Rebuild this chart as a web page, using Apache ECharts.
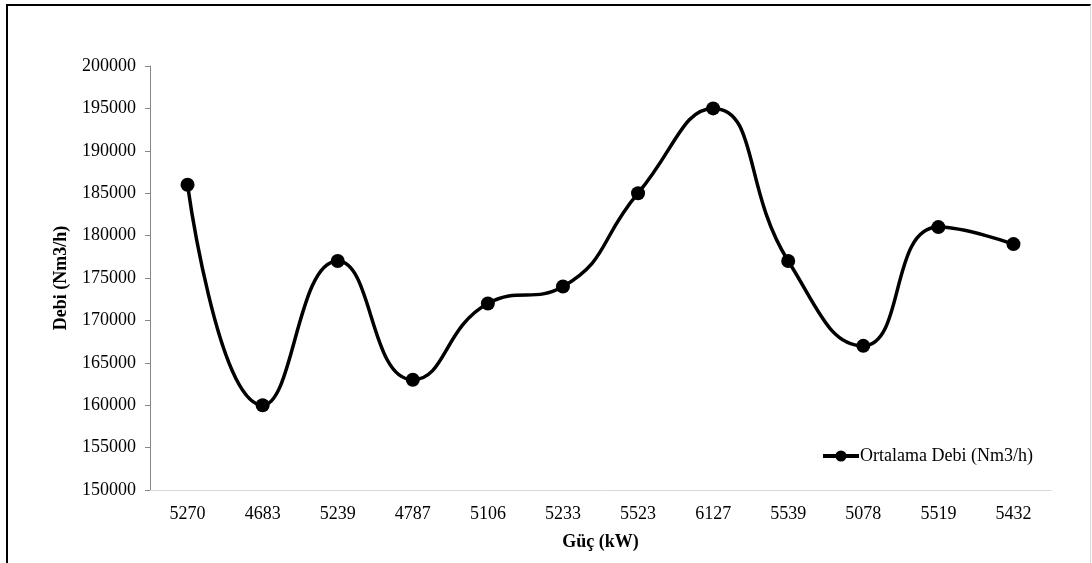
<!DOCTYPE html>
<html>
<head>
<meta charset="utf-8">
<script src="https://cdn.jsdelivr.net/npm/echarts@6/dist/echarts.min.js"></script>
<style>
html,body{margin:0;padding:0;background:#fff;}
#frame{position:absolute;left:6px;top:4px;width:1085px;height:600px;border-left:2px solid #000;border-top:2px solid #000;border-right:1px solid #d9d9d9;box-sizing:border-box;}
#main{position:absolute;left:0;top:0;width:1092px;height:563px;}
</style>
</head>
<body>
<div id="frame"></div>
<div id="main"></div>
<script>
var categories = ['5270','4683','5239','4787','5106','5233','5523','6127','5539','5078','5519','5432'];
var debi = [186000,160000,177000,163000,172000,174000,185000,195000,177000,167000,181000,179000];
var seriesName = 'Ortalama Debi (Nm3/h)';
var yMin = 150000, yMax = 200000, yStep = 5000;

var chart = echarts.init(document.getElementById('main'), null, {renderer:'canvas'});
var font = 'Liberation Serif';
chart.setOption({
  backgroundColor: 'transparent',
  animation: false,
  grid: {left:150, right:41, top:66, bottom:73, containLabel:false},
  legend: {
    data:[seriesName], left:816, top:442, itemWidth:36, itemHeight:14, itemGap:0,
    lineStyle:{width:4, color:'#000'},
    textStyle:{fontFamily:font, fontSize:18, color:'#000', padding:[0,0,0,-4]}
  },
  xAxis: {
    type:'category', data:categories, boundaryGap:true,
    name:'Güç (kW)', nameLocation:'middle', nameGap:43,
    nameTextStyle:{fontFamily:font, fontSize:18, fontWeight:'bold', color:'#000'},
    axisLine:{lineStyle:{color:'#d9d9d9', width:1}},
    axisTick:{show:false},
    axisLabel:{fontFamily:font, fontSize:18, color:'#000', margin:15}
  },
  yAxis: {
    type:'value', min:yMin, max:yMax, interval:yStep,
    name:'Debi (Nm3/h)', nameLocation:'middle', nameGap:80, nameRotate:90,
    nameTextStyle:{fontFamily:font, fontSize:18, fontWeight:'bold', color:'#000'},
    axisLine:{show:true, lineStyle:{color:'#868686', width:1}},
    axisTick:{show:true, length:5, lineStyle:{color:'#868686'}},
    splitLine:{show:false},
    axisLabel:{fontFamily:font, fontSize:18, color:'#000', margin:14, formatter:function(v){return String(v);}}
  },
  series: [{
    name:seriesName, type:'line', data:debi, smooth:0.5,
    symbol:'circle', symbolSize:14,
    lineStyle:{color:'#000', width:3.5},
    itemStyle:{color:'#000'}
  }]
});
</script>
</body>
</html>
